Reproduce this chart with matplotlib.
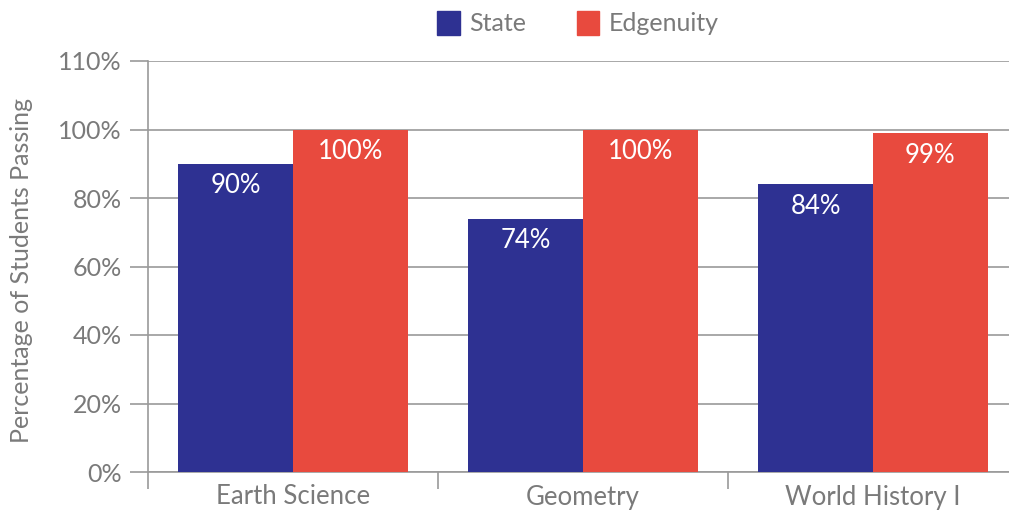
import matplotlib
matplotlib.use("Agg")
import matplotlib.pyplot as plt
import numpy as np
from matplotlib.patches import Patch

categories = ["Earth Science", "Geometry", "World History I"]
state = [90, 74, 84]
edgenuity = [100, 100, 99]
series_names = ["State", "Edgenuity"]
ytick_labels = ["0%", "20%", "40%", "60%", "80%", "100%", "110%"]
ylabel = "Percentage of Students Passing"

c_state = "#2E3192"
c_edg = "#E84A3E"
gray = "#7A7A7A"
grid = "#9A9A9A"

plt.rcParams["font.family"] = ["Lato", "DejaVu Sans"]

fig = plt.figure(figsize=(10.09, 5.19), dpi=100)
ax = fig.add_axes([148 / 1009, 47 / 519, 870 / 1009, 411 / 519])

x = np.arange(len(categories)) + 0.5
w = 0.395
b1 = ax.bar(x - w / 2, state, w, color=c_state, zorder=3)
b2 = ax.bar(x + w / 2, edgenuity, w, color=c_edg, zorder=3)

for bars, vals in ((b1, state), (b2, edgenuity)):
    for r, v in zip(bars, vals):
        ax.annotate(f"{v}%", (r.get_x() + r.get_width() / 2, r.get_height()),
                    xytext=(0, -16), textcoords="offset points",
                    ha="center", va="center", color="white", fontsize=18.5, zorder=4)

yt = np.arange(0, 20 * len(ytick_labels), 20)
ax.set_ylim(0, yt[-1])
ax.set_yticks(yt)
ax.set_yticklabels(ytick_labels, color=gray, fontsize=18)
ax.yaxis.grid(True, color=grid, linewidth=1.2, zorder=0)
ax.set_axisbelow(True)

ax.set_xlim(0, len(categories))
ax.set_xticks(np.arange(len(categories) + 1))
ax.set_xticklabels([])
ax.set_xticks(x, minor=True)
ax.set_xticklabels(categories, minor=True, color=gray, fontsize=18.5)
ax.tick_params(axis="x", which="minor", length=0, pad=9)
ax.tick_params(axis="x", which="major", length=12, color=grid, width=1.2)
ax.tick_params(axis="y", length=13, color=grid, width=1.2, pad=6)

for s in ("top", "right"):
    ax.spines[s].set_visible(False)
for s in ("left", "bottom"):
    ax.spines[s].set_color(grid)
    ax.spines[s].set_linewidth(1.2)

ax.set_ylabel(ylabel, color=gray, fontsize=18)
ax.yaxis.set_label_coords(-0.132, 0.49)

handles = [Patch(color=c_state), Patch(color=c_edg)]
fig.legend(handles, series_names, loc="center", bbox_to_anchor=(578 / 1009, 1 - 23 / 519),
           ncol=2, frameon=False, fontsize=18, labelcolor=gray,
           handlelength=0.9, handleheight=1.1, handletextpad=0.4, columnspacing=2.0)

fig.savefig("out.png", dpi=100)
